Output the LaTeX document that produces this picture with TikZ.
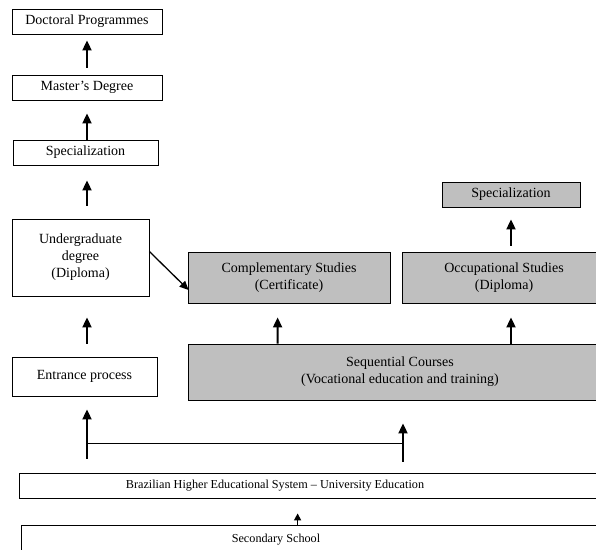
\documentclass[tikz,border=0pt]{standalone}
\usepackage{fontspec}
\setmainfont{Liberation Serif}
\usetikzlibrary{arrows.meta,calc}
\tikzset{
  box/.style={draw, line width=0.8bp, inner sep=0pt, align=center,
    font=\fontsize{14bp}{17bp}\selectfont},
  greybox/.style={box, fill=gray!50},
  basebox/.style={draw, line width=0.8bp, inner sep=0pt},
  basetext/.style={inner sep=0pt, font=\fontsize{12.2bp}{15bp}\selectfont},
  flow/.style={line width=1.8bp, -{Triangle[width=9bp,length=10bp]}},
}
\begin{document}
\begin{tikzpicture}[x=1bp, y=-1bp]
  \clip (0,0) rectangle (596,550);
  % left column: university degrees
  \node[box, minimum width=150bp, minimum height=25bp] (doc) at (87,21.5) {Doctoral Programmes};
  \node[box, minimum width=150bp, minimum height=25bp] (master) at (87,87.5) {Master's Degree};
  \node[box, minimum width=145bp, minimum height=25bp] (spec) at (85.5,152.5) {Specialization};
  \node[box, minimum width=137bp, minimum height=77bp] (ugrad) at (80.5,257.5) {Undergraduate\\degree\\(Diploma)};
  \node[box, minimum width=145bp, minimum height=39bp] (entr) at (84.5,376.5) {Entrance process};
  % right side: vocational branch (grey)
  \node[greybox, minimum width=202bp, minimum height=51bp] (comp) at (289,277.5) {Complementary Studies\\(Certificate)};
  \node[greybox, minimum width=204bp, minimum height=51bp] (occ) at (504,277.5) {Occupational Studies\\(Diploma)};
  \node[greybox, minimum width=138bp, minimum height=25bp] (vspec) at (511,194.5) {Specialization};
  \node[greybox, minimum width=424bp, minimum height=56bp] (seq) at (400,372) {Sequential Courses\\(Vocational education and training)};
  % bottom boxes, running past the right edge
  \node[basebox, minimum width=600bp, minimum height=25bp] (univ) at (319,485.5) {};
  \node[basetext] (univtext) at (275,485.5) {Brazilian Higher Educational System -- University Education};
  \node[basebox, minimum width=600bp, minimum height=40bp] (school) at (321,545) {};
  \node[basetext] (schooltext) at (276,540) {Secondary School};
  % arrows up the left column
  \draw[flow, shorten <=7bp, shorten >=6bp] (master) -- (doc);
  \draw[flow, shorten >=13bp] (spec.north -| master) -- (master);
  \draw[flow, shorten <=13bp, shorten >=15bp] (ugrad.north -| doc) -- (spec.south -| doc);
  \draw[flow, shorten <=13bp, shorten >=21bp] (entr.north -| doc) -- (ugrad.south -| doc);
  \draw[line width=1.3bp, -{Triangle[width=8bp,length=9bp]}] ($(ugrad.east)+(0,-6)$) -- ($(comp.west)+(1,12.5)$);
  % arrows in the grey branch
  \draw[flow, shorten >=14bp] ($(seq.north west)+(90,0)$) -- ($(comp.south west)+(90,0)$);
  \draw[flow, shorten >=14bp] (seq.north -| vspec) -- (occ.south -| vspec);
  \draw[flow, shorten <=6bp, shorten >=12bp] (occ.north -| vspec) -- (vspec);
  % fork from the university box
  \coordinate (forkL) at (87,443);
  \coordinate (forkR) at (403,443);
  \draw[line width=0.9bp] (forkL) -- (forkR);
  \draw[flow, shorten <=14bp, shorten >=13bp] (univ.north -| forkL) -- (entr.south -| forkL);
  \draw[flow, shorten <=11bp, shorten >=23bp] (univ.north -| forkR) -- (seq.south -| forkR);
  \draw[line width=1.5bp, -{Triangle[width=7bp,length=7bp]}, shorten >=15bp] ($(school.north west)+(277,0)$) -- ($(univ.south west)+(279,0)$);
\end{tikzpicture}
\end{document}
